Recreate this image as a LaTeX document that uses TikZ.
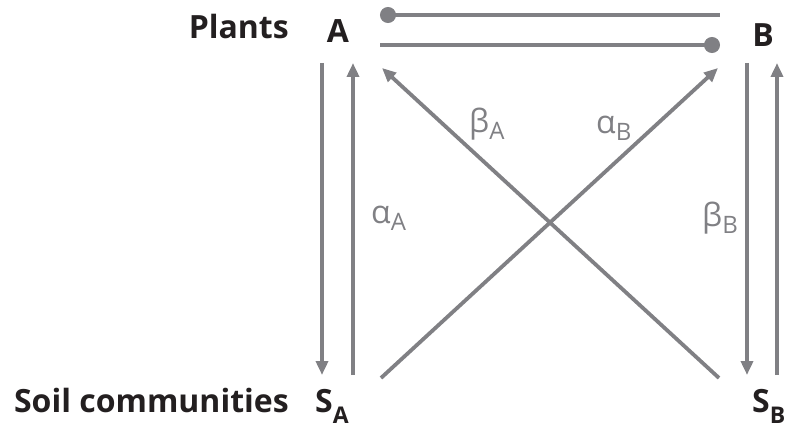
\documentclass[tikz,border=0pt]{standalone}
\usepackage{fontspec}
\setmainfont{Open Sans}
\usepackage{xcolor}
\usepackage{tikz}
\usetikzlibrary{arrows.meta, calc}
\definecolor{linkgray}{RGB}{128,128,132}
\definecolor{inkblack}{RGB}{35,31,32}
\newcommand{\labelfont}{\fontsize{32}{34}\selectfont\bfseries}
\newcommand{\greekfont}{\fontsize{32}{34}\selectfont}
\newcommand{\lsub}[1]{\raisebox{-11pt}{\fontsize{23}{23}\selectfont\bfseries #1}}
\newcommand{\gsub}[1]{\raisebox{-7pt}{\fontsize{24}{24}\selectfont #1}}

\begin{document}
\begin{tikzpicture}[
    x=1pt, y=-1pt,
    >={Triangle[length=14pt, width=12pt]},
    label/.style={font=\labelfont, text=inkblack, inner sep=0pt},
    greek/.style={font=\greekfont, text=linkgray, inner sep=0pt, anchor=base west},
    link/.style={draw=linkgray, line width=3.8pt, ->},
    contact/.style={draw=linkgray, line width=3.8pt},
]
    \useasboundingbox (0,0) rectangle (785,428);

    % Plants row
    \node[label, anchor=base east] (plants) at (289,39) {Plants};
    \node[label, anchor=base] (A) at (338,43) {A};
    \node[label, anchor=base] (B) at (763,47) {B};

    % Soil row
    \node[label, anchor=base east] (soil) at (289,412) {Soil communities};
    \node[label, anchor=base west] (SA) at (315,412) {S\lsub{A}};
    \node[label, anchor=base west] (SB) at (752,412) {S\lsub{B}};

    % Competition between plants
    \draw[contact, {Circle[length=16pt]}-] ([shift={(42,-28)}]A.base) -- ([shift={(-43,-32)}]B.base);
    \draw[contact, -{Circle[length=16pt]}] ([shift={(42,2)}]A.base) -- ([shift={(-43,-2)}]B.base);

    % Plant-soil feedbacks
    \draw[link] ([shift={(-16,20)}]A.base) -- ([shift={(7,-37)}]SA.base west);
    \draw[link] ([shift={(38,-37)}]SA.base west) -- ([shift={(15,20)}]A.base);
    \draw[link] ([shift={(-16,16)}]B.base) -- ([shift={(-5,-37)}]SB.base west);
    \draw[link] ([shift={(25,-37)}]SB.base west) -- ([shift={(14,16)}]B.base);
    \draw[link] ([shift={(-33,-34)}]SB.base west) -- ([shift={(44,25)}]A.base);
    \draw[link] ([shift={(66,-34)}]SA.base west) -- ([shift={(-45,21)}]B.base);

    % Feedback coefficients
    \node[greek] (alphaA) at (371,223) {α\gsub{A}};
    \node[greek] (betaA) at (469,132) {β\gsub{A}};
    \node[greek] (alphaB) at (596,133) {α\gsub{B}};
    \node[greek] (betaB) at (702,226) {β\gsub{B}};
\end{tikzpicture}
\end{document}
